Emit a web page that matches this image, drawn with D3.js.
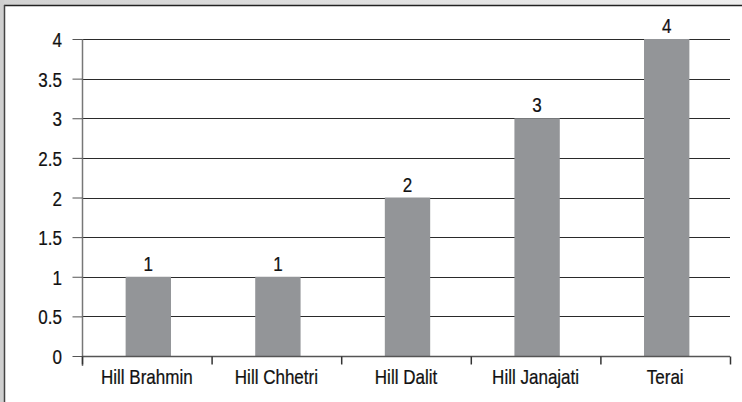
<!DOCTYPE html>
<html>
<head>
<meta charset="utf-8">
<script src="https://cdn.jsdelivr.net/npm/d3@7"></script>
<style>
  html, body { margin: 0; padding: 0; background: #fff; }
  svg { display: block; }
  text { font-family: "Liberation Sans", Arial, sans-serif; fill: #111; stroke: #111; stroke-width: 0.25px; }
</style>
</head>
<body>
<svg id="chart" width="742" height="402"></svg>
<script>
// Respondents by caste/ethnic group
const categories = ["Hill Brahmin", "Hill Chhetri", "Hill Dalit", "Hill Janajati", "Terai"];
const counts = [1, 1, 2, 3, 4];
const yTicks = [0, 0.5, 1, 1.5, 2, 2.5, 3, 3.5, 4];
const yTickLabels = ["0", "0.5", "1", "1.5", "2", "2.5", "3", "3.5", "4"];

const svg = d3.select("#chart");
const W = 742, H = 402;
const FONT = 20.5, NARROW = 0.83;

// place a text at (px, py) with a condensed horizontal scale
function narrowText(sel, px, py) {
  sel.attr("x", null).attr("y", null)
    .attr("transform", (d, i) => `translate(${px(d, i)},${py(d, i)}) scale(${NARROW},1)`)
    .attr("font-size", FONT);
}

// frame: light grey strip along top and left, dark rule inside it
const grad = svg.append("defs").append("linearGradient").attr("id", "topband")
  .attr("x1", "0").attr("x2", "1").attr("y1", "0").attr("y2", "0");
grad.append("stop").attr("offset", "0").attr("stop-color", "#d2d2d2");
grad.append("stop").attr("offset", "1").attr("stop-color", "#eeeeee");
svg.append("rect").attr("x", 0).attr("y", 0).attr("width", W).attr("height", 5).attr("fill", "url(#topband)");
svg.append("rect").attr("x", 0).attr("y", 0).attr("width", 4).attr("height", H).attr("fill", "#cfcfcf");
svg.append("line").attr("x1", 4).attr("x2", W).attr("y1", 5.5).attr("y2", 5.5).attr("stroke", "#222").attr("stroke-width", 1.5);
svg.append("line").attr("x1", 4.5).attr("x2", 4.5).attr("y1", 5).attr("y2", H).attr("stroke", "#444").attr("stroke-width", 1.5);

const plotLeft = 82, plotRight = 730, plotTop = 39, plotBottom = 356;

const x = d3.scaleBand().domain(categories).range([plotLeft, plotRight]).paddingInner(0).paddingOuter(0);
const y = d3.scaleLinear().domain([0, 4]).range([plotBottom, plotTop]);

// horizontal gridlines
svg.append("g").selectAll("line").data(yTicks.filter(d => d > 0)).join("line")
  .attr("x1", plotLeft).attr("x2", plotRight)
  .attr("y1", d => Math.round(y(d)) + 0.5).attr("y2", d => Math.round(y(d)) + 0.5)
  .attr("stroke", "#2a2a2a").attr("stroke-width", 1);

// bars
const barW = x.bandwidth() * 0.35;
svg.append("g").selectAll("rect").data(categories).join("rect")
  .attr("x", (d) => x(d) + x.bandwidth() / 2 - barW / 2 + 1.5)
  .attr("width", barW)
  .attr("y", (d, i) => y(counts[i]))
  .attr("height", (d, i) => y(0) - y(counts[i]))
  .attr("fill", "#939598");

// value labels
svg.append("g").selectAll("text").data(categories).join("text")
  .attr("text-anchor", "middle")
  .text((d, i) => counts[i])
  .call(narrowText, (d) => x(d) + x.bandwidth() / 2 + 1.5, (d, i) => y(counts[i]) - 6);

// y axis
const yAxis = d3.axisLeft(y).tickValues(yTicks)
  .tickFormat((d, i) => yTickLabels[i]).tickSize(10).tickPadding(10);
const gy = svg.append("g").attr("transform", `translate(${plotLeft + 0.5},0)`).call(yAxis);
gy.select(".domain").attr("d", `M0,${plotTop}V${plotBottom + 10}`).attr("stroke", "#777").attr("stroke-width", 1.5);
gy.selectAll(".tick line").attr("stroke", "#555");
gy.selectAll(".tick text")
  .attr("font-family", null).attr("fill", "#111").attr("dy", null)
  .call(narrowText, () => -20.5, () => 7.5);

// x axis with ticks at category boundaries
const gx = svg.append("g").attr("transform", `translate(0,${plotBottom + 0.5})`);
gx.append("line").attr("x1", plotLeft).attr("x2", plotRight).attr("y1", 0).attr("y2", 0).attr("stroke", "#555").attr("stroke-width", 1.5);
const bounds = categories.map(d => x(d)).concat([plotRight]);
gx.selectAll("line.tk").data(bounds).join("line").attr("class", "tk")
  .attr("x1", d => d + 0.5).attr("x2", d => d + 0.5).attr("y1", 0).attr("y2", 8)
  .attr("stroke", "#333").attr("stroke-width", 1.5);
gx.selectAll("text").data(categories).join("text")
  .attr("text-anchor", "middle")
  .text(d => d)
  .call(narrowText, d => x(d) + x.bandwidth() / 2, () => 27.5);
</script>
</body>
</html>
